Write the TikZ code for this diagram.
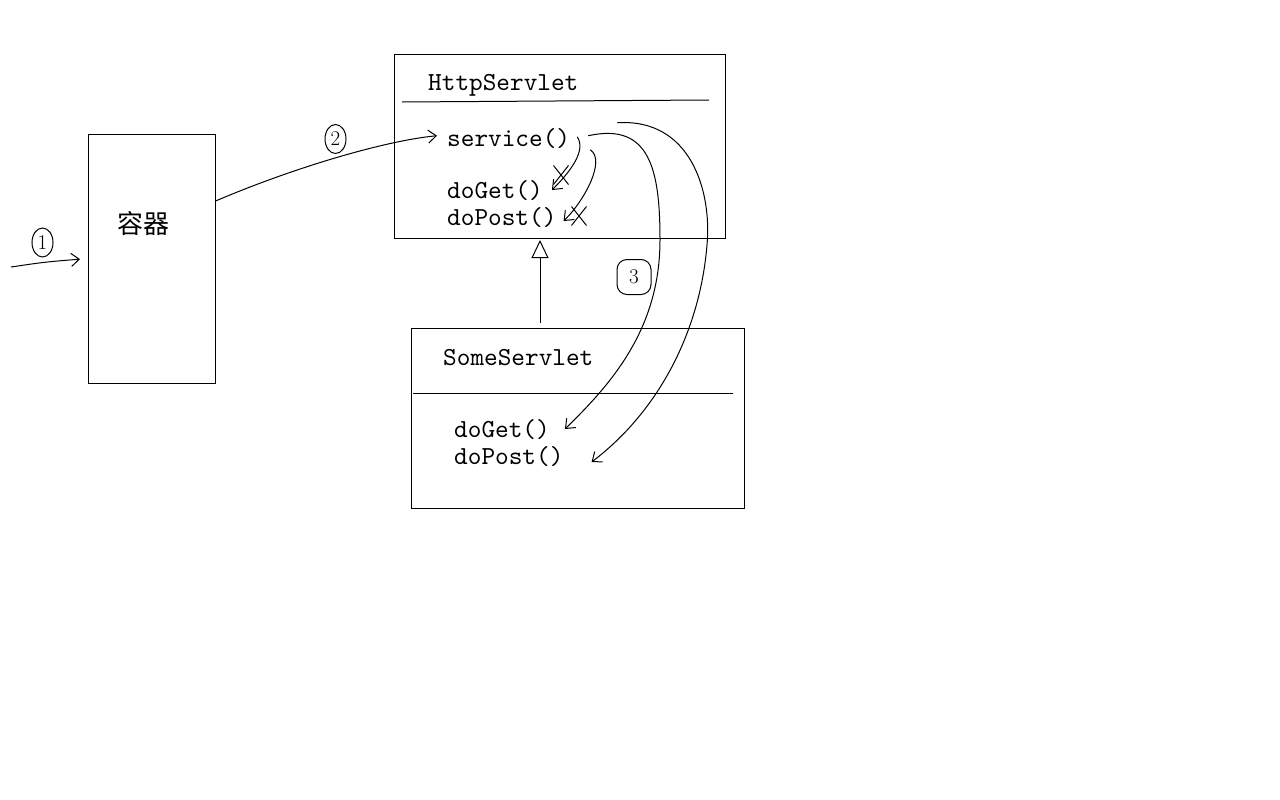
\documentclass[tikz,border=0pt]{standalone}
\usepackage{fontspec}
\newfontfamily\cjkfont{Noto Sans CJK SC}
\newfontfamily\codefont{lmmono10-regular.otf}
\usepackage{tikz}
\usetikzlibrary{arrows.meta,calc,positioning,shapes.geometric,shapes.misc}
\tikzset{
  >={Straight Barb[length=8pt,width=13pt]},
  sbox/.style={draw, line width=1pt, inner sep=0pt, outer sep=0pt},
  stitle/.style={anchor=base west, inner sep=0pt,
                 font=\codefont\fontsize{26}{28}\selectfont},
  smeth/.style={stitle},
  shand/.style={->, line width=1pt},
  snum/.style={ellipse, draw, line width=1pt, inner sep=0pt,
               minimum width=21pt, minimum height=29pt,
               font=\fontsize{21}{22}\selectfont},
  snumbox/.style={snum, rectangle, rounded corners=10pt,
                  minimum width=34pt, minimum height=35pt},
  sno/.style={cross out, draw, line width=1pt, minimum width=14pt,
              minimum height=18pt, inner sep=0pt},
  sinherit/.style={-{Triangle[open,length=18pt,width=17pt]}, line width=1pt},
}

\begin{document}
\begin{tikzpicture}[x=1pt,y=-1pt]

  \fill[white] (0,0) rectangle (1280,800);
  \useasboundingbox (0,0) rectangle (1280,800);

  % container
  \node[sbox, minimum width=127pt, minimum height=249pt] (rq) at (151.5,258.5) {};
  \node[inner sep=0pt, font=\cjkfont\fontsize{26}{28}\selectfont] (rqname) at (143,224) {容器};

  % HttpServlet
  \node[sbox, minimum width=331pt, minimum height=183pt] (http) at (559.5,146.5) {};
  \node[stitle] (httpname) at (428,90) {HttpServlet};
  \draw[line width=1pt] ($(http.north west)+(8,47)$) -- ($(http.north east)+(-16,45)$);
  \node[smeth] (service) at (447,146) {service()};
  \node[smeth] (doget) at (447,198) {doGet()};
  \node[smeth] (dopost) at (447,225) {doPost()};

  % SomeServlet
  \node[sbox, minimum width=333pt, minimum height=180pt] (some) at (577.5,418) {};
  \node[stitle] (somename) at (443,365) {SomeServlet};
  \draw[line width=1pt] ($(some.north west)+(2,65)$) -- ($(some.north east)+(-11,65)$);
  \node[smeth] (someget) at (454,437) {doGet()};
  \node[smeth] (somepost) at (454,464) {doPost()};

  % extends
  \coordinate (gen) at (540,0);
  \draw[sinherit, shorten <=5pt, shorten >=2pt] (gen |- some.north) -- (gen |- http.south);

  % 1
  \coordinate (req) at (11,267);
  \draw[shand, shorten >=8pt] (req) .. controls (45,262) .. (rq.west);
  \node[snum] (n1) at (42.5,242.5) {1};

  % 2
  \draw[shand] ($(rq.north east)!0.27!(rq.south east)$)
    .. controls (300,165) and (390,140) .. ([xshift=-10pt,yshift=-8pt]service.north west);
  \node[snum] (n2) at (335.5,139) {2};

  % not called
  \draw[shand] ([xshift=7pt,yshift=-9pt]service.north east)
    .. controls (586,150) and (572,170) .. ([xshift=9pt]doget.east);
  \node[sno] (no1) at (561,175) {};
  \draw[shand] ([xshift=20pt,yshift=-22pt]service.north east)
    .. controls (606,160) and (585,200) .. ([xshift=7pt,yshift=-4pt]dopost.east);
  \node[sno] (no2) at (579,216) {};

  % 3
  \draw[shand] ([xshift=18pt,yshift=-8pt]service.north east)
    .. controls (650,122) and (660,170) .. (660,240)
    .. controls (660,330) and (610,385) .. ([xshift=15pt]someget.east);
  \draw[shand] ([xshift=47pt,yshift=5pt]service.north east)
    .. controls (690,118) and (712,190) .. (707,245)
    .. controls (700,330) and (660,410) .. ([xshift=28pt,yshift=-6pt]somepost.east);
  \node[snumbox] (n3) at (634,277) {3};

\end{tikzpicture}
\end{document}
